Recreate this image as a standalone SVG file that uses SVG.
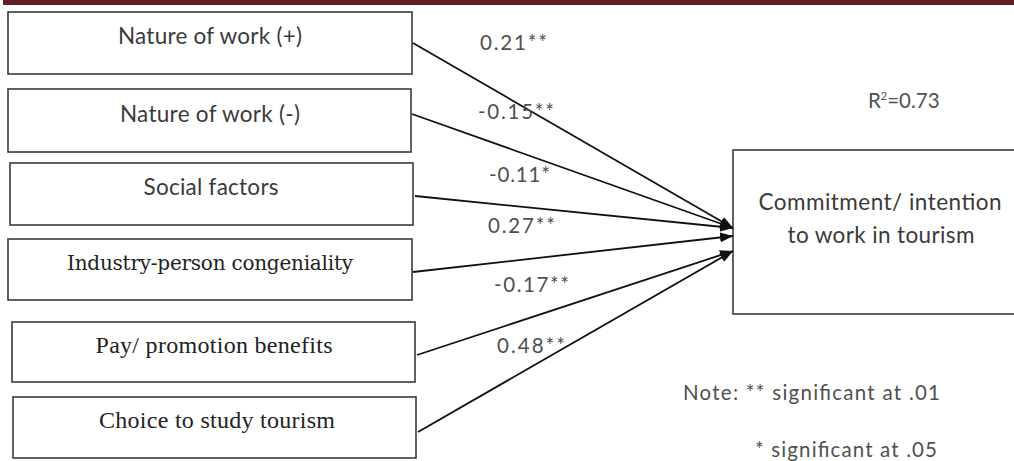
<svg xmlns="http://www.w3.org/2000/svg" width="1014" height="461" viewBox="0 0 1014 461">
<style>
.box{fill:#fff;stroke:#3a3a3a;stroke-width:1.6}
.sans{font-family:Lato,"Open Sans","Liberation Sans",sans-serif;font-size:22.5px;fill:#3a3a3a}
.serif{font-family:"DejaVu Serif","Liberation Serif",serif;font-size:20px;fill:#222}
.times{font-family:"Liberation Serif","Times New Roman",serif;font-size:24px;fill:#222}
.lbl{font-family:Lato,"Open Sans","Liberation Sans",sans-serif;font-size:20.5px;fill:#505050}
.edge{stroke:#111;stroke-width:1.8;fill:none;marker-end:url(#arr)}
</style>
<defs>
<marker id="arr" markerUnits="userSpaceOnUse" markerWidth="14" markerHeight="10" refX="13" refY="5" orient="auto">
<path d="M0,0 L13,5 L0,10 z" fill="#111"/>
</marker>
</defs>
<rect x="3" y="0" width="1011" height="5" fill="#612022"/>
<g id="n1"><rect class="box" x="8" y="12" width="404" height="62"/><text class="sans" x="210" y="44" text-anchor="middle" textLength="184">Nature of work (+)</text></g>
<g id="n2"><rect class="box" x="8" y="89" width="403" height="63"/><text class="sans" x="210" y="122" text-anchor="middle" textLength="180">Nature of work (-)</text></g>
<g id="n3"><rect class="box" x="10" y="163" width="403" height="62"/><text class="sans" x="211" y="195" text-anchor="middle" textLength="135">Social factors</text></g>
<g id="n4"><rect class="box" x="8" y="239" width="404" height="61"/><text class="serif" x="210" y="270" text-anchor="middle" textLength="286">Industry-person congeniality</text></g>
<g id="n5"><rect class="box" x="12" y="322" width="403" height="60"/><text class="times" x="214" y="353" text-anchor="middle" textLength="237">Pay/ promotion benefits</text></g>
<g id="n6"><rect class="box" x="13" y="397" width="403" height="61"/><text class="times" x="217" y="428" text-anchor="middle" textLength="236">Choice to study tourism</text></g>
<g id="target"><rect class="box" x="733" y="150" width="300" height="164"/><text class="sans" x="880" y="210" text-anchor="middle" textLength="243">Commitment/ intention</text><text class="sans" x="881" y="243" text-anchor="middle" textLength="187">to work in tourism</text></g>
<g id="connectors">
<line class="edge" x1="413" y1="43" x2="733" y2="228"/>
<line class="edge" x1="412" y1="114" x2="733" y2="228"/>
<line class="edge" x1="415" y1="196" x2="733" y2="228"/>
<line class="edge" x1="413" y1="272" x2="733" y2="236"/>
<line class="edge" x1="417" y1="355" x2="733" y2="251"/>
<line class="edge" x1="418" y1="432" x2="733" y2="251"/>
</g>
<g id="labels">
<text class="lbl" x="480" y="50" textLength="67">0.21**</text>
<text class="lbl" x="478" y="119" textLength="76">-0.15**</text>
<text class="lbl" x="489" y="182" textLength="61">-0.11*</text>
<text class="lbl" x="488" y="233" textLength="67">0.27**</text>
<text class="lbl" x="494" y="292" textLength="75">-0.17**</text>
<text class="lbl" x="497" y="353" textLength="68">0.48**</text>
<text class="lbl" x="868" y="108">R<tspan font-size="11" dy="-8">2</tspan><tspan dy="8">=0.73</tspan></text>
<text class="lbl" x="683" y="400" textLength="257">Note: ** significant at .01</text>
<text class="lbl" x="755" y="457" textLength="182">* significant at .05</text>
</g>
</svg>
